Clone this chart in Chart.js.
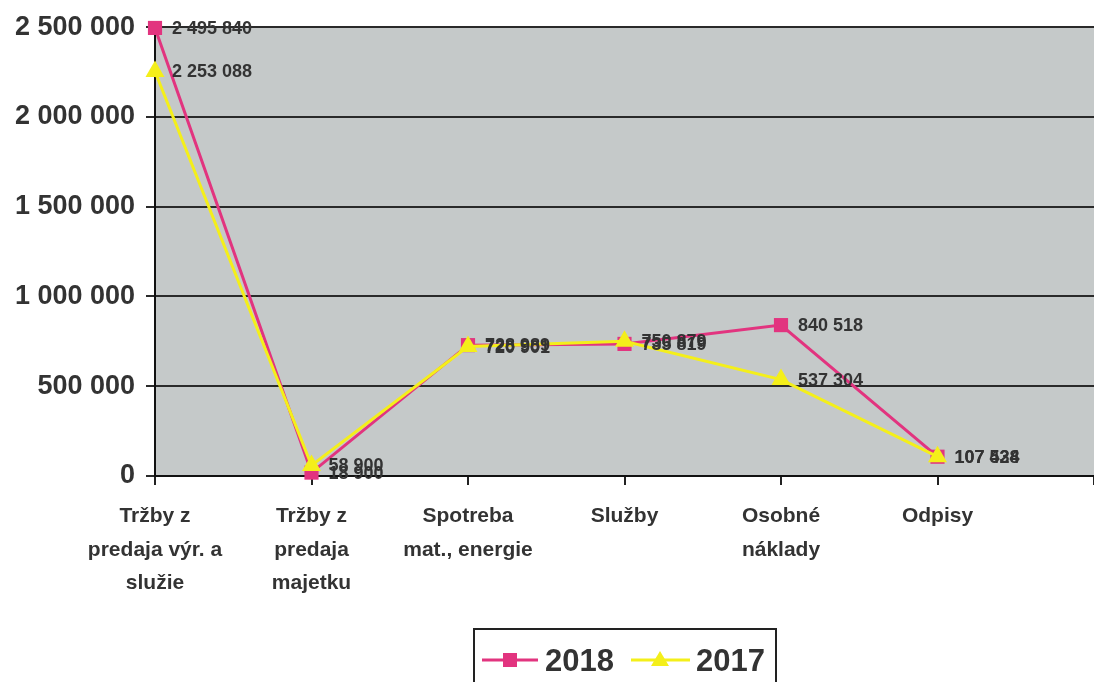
<!DOCTYPE html>
<html>
<head>
<meta charset="utf-8">
<script src="https://cdn.jsdelivr.net/npm/chart.js"></script>
<style>
  html, body { margin: 0; padding: 0; background: #fff; }
  #wrap { width: 1094px; height: 682px; position: relative; }
</style>
</head>
<body>
<div id="wrap"><canvas id="myChart"></canvas></div>
<script>
"use strict";

const CATEGORIES = [
    ["Tržby z", "predaja výr. a", "služie"],
    ["Tržby z", "predaja", "majetku"],
    ["Spotreba", "mat., energie"],
    ["Služby"],
    ["Osobné", "náklady"],
    ["Odpisy"],
    ""
];
const VALUES_2018 = [2495840, 18900, 728989, 735819, 840518, 107434];
const VALUES_2017 = [2253088, 58900, 720901, 750879, 537304, 107528];
const Y_TICKS = [0, 500000, 1000000, 1500000, 2000000, 2500000];

const PINK = "#e2347f";
const YELLOW = "#f4ef1a";
const TEXT = "#333";

function fmt(n)
{
    return n.toString().replace(/\B(?=(\d{3})+(?!\d))/g, " ");
}

// gray plot background
const plotBg = {
    id: "plotBg",
    beforeDraw(chart) {
        const a = chart.chartArea;
        const ctx = chart.ctx;
        ctx.save();
        ctx.fillStyle = "#c5c9c9";
        ctx.fillRect(a.left, a.top, a.right - a.left, a.bottom - a.top);
        ctx.restore();
    }
};

// value labels next to points
const valueLabels = {
    id: "valueLabels",
    afterDatasetsDraw(chart) {
        const ctx = chart.ctx;
        ctx.save();
        ctx.font = "bold 18px 'Liberation Sans'";
        ctx.fillStyle = TEXT;
        ctx.textBaseline = "middle";
        [0, 1].forEach(i => {
            const meta = chart.getDatasetMeta(i);
            meta.data.forEach((pt, j) => {
                ctx.fillText(fmt(chart.data.datasets[i].data[j]), pt.x + 17, pt.y + 1);
            });
        });
        ctx.restore();
    }
};

// boxed legend with line + marker
const boxLegend = {
    id: "boxLegend",
    afterDraw(chart) {
        const ctx = chart.ctx;
        ctx.save();
        ctx.strokeStyle = "#222";
        ctx.lineWidth = 2;
        ctx.strokeRect(474, 629, 302, 60);
        const y = 660;
        ctx.lineWidth = 3;
        ctx.strokeStyle = PINK;
        ctx.beginPath(); ctx.moveTo(482, y); ctx.lineTo(538, y); ctx.stroke();
        ctx.fillStyle = PINK;
        ctx.fillRect(503, y - 7, 14, 14);
        ctx.strokeStyle = YELLOW;
        ctx.beginPath(); ctx.moveTo(631, y); ctx.lineTo(690, y); ctx.stroke();
        ctx.fillStyle = YELLOW;
        ctx.beginPath(); ctx.moveTo(660, y - 9); ctx.lineTo(669, y + 6); ctx.lineTo(651, y + 6); ctx.closePath(); ctx.fill();
        ctx.fillStyle = TEXT;
        ctx.font = "bold 31px 'Liberation Sans'";
        ctx.textBaseline = "middle";
        ctx.fillText("2018", 545, y + 2);
        ctx.fillText("2017", 696, y + 2);
        ctx.restore();
    }
};

const data = {
    labels: CATEGORIES,
    datasets: [{
        label: "2018",
        data: VALUES_2018,
        borderColor: PINK,
        backgroundColor: PINK,
        borderWidth: 3,
        pointStyle: "rect",
        pointRadius: 10,
        pointBorderWidth: 0,
        clip: false,
        order: 2
    }, {
        label: "2017",
        data: VALUES_2017,
        borderColor: YELLOW,
        backgroundColor: YELLOW,
        borderWidth: 3,
        pointStyle: "triangle",
        pointRadius: 11,
        pointBorderWidth: 0,
        clip: false,
        order: 1
    }]
};

const config = {
    type: "line",
    data: data,
    plugins: [plotBg, valueLabels, boxLegend],
    options: {
        responsive: true,
        maintainAspectRatio: false,
        animation: false,
        layout: { autoPadding: false, padding: { top: 25, left: 0, right: -3, bottom: 76 } },
        plugins: {
            legend: { display: false },
            tooltip: { enabled: false }
        },
        scales: {
            x: {
                offset: false,
                grid: {
                    drawOnChartArea: false,
                    drawTicks: true,
                    tickLength: 9,
                    color: "#222",
                    lineWidth: 2
                },
                border: { color: "#111", width: 2 },
                ticks: {
                    autoSkip: false,
                    maxRotation: 0,
                    minRotation: 0,
                    color: TEXT,
                    padding: 15,
                    font: { family: "'Liberation Sans'", size: 21, weight: "bold", lineHeight: 1.58 }
                },
                afterFit(scale) {
                    scale.height = 130;
                    scale.paddingLeft = 0;
                    scale.paddingRight = 0;
                }
            },
            y: {
                min: 0,
                max: 2500000,
                afterBuildTicks(scale) { scale.ticks = Y_TICKS.map(v => ({ value: v })); },
                grid: {
                    color: "#2a2a2a",
                    lineWidth: 2,
                    tickLength: 9
                },
                border: { color: "#111", width: 2 },
                ticks: {
                    color: TEXT,
                    padding: 11,
                    font: { family: "'Liberation Sans'", size: 27, weight: "bold" },
                    callback: v => fmt(v)
                },
                afterFit(scale) { scale.width = 155; }
            }
        }
    }
};

const myChart = new Chart(document.getElementById("myChart"), config);
</script>
</body>
</html>
